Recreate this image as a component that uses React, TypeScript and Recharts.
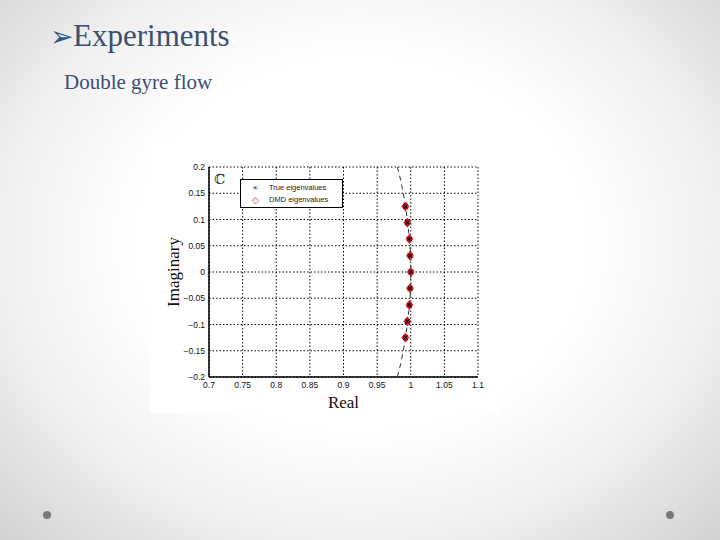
import React from 'react';
import { ScatterChart, Scatter, XAxis, YAxis, CartesianGrid } from 'recharts';

const eigReal = [0.992, 0.995, 0.998, 0.999, 1.0, 0.999, 0.998, 0.995, 0.992];
const eigImag = [0.125, 0.094, 0.063, 0.031, 0, -0.031, -0.063, -0.094, -0.125];

// dashed unit-circle arc as seen in the figure
const arcReal = [0.98, 0.985, 0.989, 0.992, 0.995, 0.997, 0.999, 1.0, 1.0, 1.0, 0.999, 0.997, 0.995, 0.992, 0.989, 0.985, 0.98];
const arcImag = [0.2, 0.175, 0.15, 0.125, 0.1, 0.075, 0.05, 0.025, 0, -0.025, -0.05, -0.075, -0.1, -0.125, -0.15, -0.175, -0.2];

const xTicks = [0.7, 0.75, 0.8, 0.85, 0.9, 0.95, 1, 1.05, 1.1];
const yTicks = [-0.2, -0.15, -0.1, -0.05, 0, 0.05, 0.1, 0.15, 0.2];

const eigData = eigReal.map((r, i) => ({ re: r, im: eigImag[i] }));
const arcData = arcReal.map((r, i) => ({ re: r, im: arcImag[i] }));

const fmt = (v: number) => String(v).replace('-', '\u2212');

const Cross = (p: any) => {
  const { cx, cy } = p;
  const s = 2.2;
  return (
    <g stroke="#000" strokeWidth={1}>
      <line x1={cx - s} y1={cy - s} x2={cx + s} y2={cy + s} />
      <line x1={cx - s} y1={cy + s} x2={cx + s} y2={cy - s} />
    </g>
  );
};

const Diamond = (p: any) => {
  const { cx, cy } = p;
  return (
    <path
      d={`M${cx},${cy - 4.5} L${cx + 3.5},${cy} L${cx},${cy + 4.5} L${cx - 3.5},${cy} Z`}
      fill="#a8141c"
      stroke="#e03030"
      strokeWidth={1}
    />
  );
};

const NoDot = () => null;

const YTitle = (props: any) => {
  const vb = props.viewBox || {};
  const cx = vb.x + 25;
  const cy = vb.y + vb.height / 2;
  return (
    <text x={cx} y={cy} transform={`rotate(-90 ${cx} ${cy})`} textAnchor="middle" dominantBaseline="middle"
      fontFamily="Liberation Serif" fontSize={17} fill="#111">
      Imaginary
    </text>
  );
};

const XTitle = (props: any) => {
  const vb = props.viewBox || {};
  return (
    <text x={vb.x + vb.width / 2} y={vb.y + 31} textAnchor="middle" fontFamily="Liberation Serif" fontSize={17} fill="#111">
      Real
    </text>
  );
};

const LegendBox = () => (
  <div style={{ position: 'absolute', left: 90, top: 41, border: '1px solid #000', background: '#fff', width: 103, height: 29, fontFamily: 'Liberation Sans', fontSize: 7.5, color: '#222', lineHeight: '12px', padding: '2px 0', boxSizing: 'border-box' }}>
    <div style={{ display: 'flex', alignItems: 'center', height: 12 }}>
      <span style={{ width: 28, textAlign: 'center', fontSize: 8, color: '#000' }}>×</span>
      <span>True eigenvalues</span>
    </div>
    <div style={{ display: 'flex', alignItems: 'center', height: 12 }}>
      <span style={{ width: 28, textAlign: 'center', color: '#d02020', fontSize: 9 }}>◇</span>
      <span>DMD eigenvalues</span>
    </div>
  </div>
);

const tickStyle = { fontSize: 8.5, fill: '#111', fontFamily: 'Liberation Sans' };

export default function App() {
  return (
    <div style={{ position: 'absolute', left: 0, top: 0, width: 720, height: 540, overflow: 'hidden',
      background: 'radial-gradient(ellipse at 50% 45%, #ffffff 45%, #f0f0f0 70%, #d2d2d2 100%)' }}>
      <div style={{ position: 'absolute', left: 50, top: 18, fontFamily: 'Liberation Serif', fontSize: 31, color: '#3b4f70' }}>
        <span style={{ color: '#2d5a8c', fontSize: 28 }}>➢</span>Experiments
      </div>
      <div style={{ position: 'absolute', left: 64, top: 70, fontFamily: 'Liberation Serif', fontSize: 21, color: '#3b4f70' }}>
        Double gyre flow
      </div>

      <div style={{ position: 'absolute', left: 150, top: 138, width: 350, height: 275, background: '#fff' }}>
        <ScatterChart width={350} height={275} margin={{ top: 29, right: 22, bottom: 0, left: 0 }}>
          <CartesianGrid stroke="#000" strokeDasharray="1.5 2" strokeWidth={1} />
          <XAxis type="number" dataKey="re" domain={[0.7, 1.1]} ticks={xTicks} tickFormatter={fmt}
            height={36} tickSize={0} tickMargin={5} tick={tickStyle} stroke="#000" strokeWidth={1.5}
            allowDataOverflow label={<XTitle />} />
          <YAxis type="number" dataKey="im" domain={[-0.2, 0.2]} ticks={yTicks} tickFormatter={fmt}
            width={59} tickSize={0} tickMargin={4} tick={tickStyle} stroke="#000" strokeWidth={1.5}
            allowDataOverflow label={<YTitle />} />
          <Scatter name="arc" data={arcData} shape={<NoDot />} line={{ stroke: '#333', strokeWidth: 1, strokeDasharray: '5 4' }}
            lineType="joint" isAnimationActive={false} />
          <Scatter name="True eigenvalues" data={eigData} shape={<Cross />} isAnimationActive={false} />
          <Scatter name="DMD eigenvalues" data={eigData} shape={<Diamond />} isAnimationActive={false} />
          <Scatter name="True eigenvalues top" data={eigData} shape={<Cross />} isAnimationActive={false} />
        </ScatterChart>
        <LegendBox />
        <div style={{ position: 'absolute', left: 64, top: 33, fontFamily: 'DejaVu Serif', fontSize: 14, color: '#333' }}>ℂ</div>
      </div>

      <div style={{ position: 'absolute', left: 43, top: 511, width: 8, height: 8, borderRadius: 4, background: '#7a7a7a' }} />
      <div style={{ position: 'absolute', left: 666, top: 511, width: 8, height: 8, borderRadius: 4, background: '#7a7a7a' }} />
    </div>
  );
}
